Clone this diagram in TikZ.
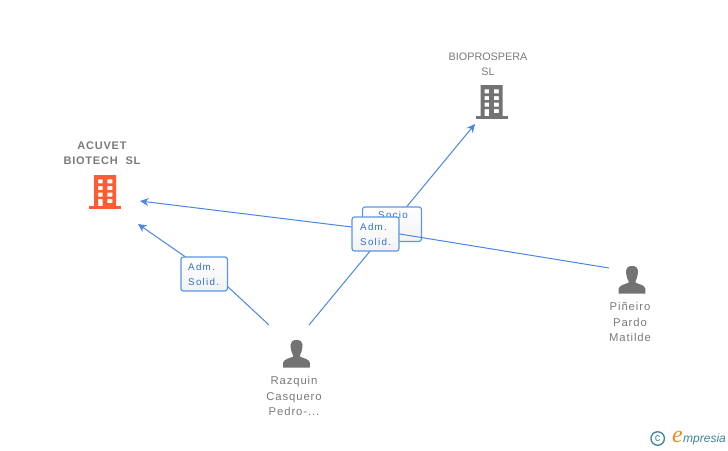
\documentclass[tikz,border=0pt]{standalone}
\usepackage{fontspec}
\setmainfont{Liberation Sans}
\newfontfamily\namefont[LetterSpace=8]{Liberation Sans}
\newfontfamily\capsfont{Liberation Sans}
\newfontfamily\boldnamefont[LetterSpace=7]{Liberation Sans}
\newfontfamily\tagfont[LetterSpace=13]{Liberation Sans}
\newfontfamily\logofont{Liberation Serif}
\usetikzlibrary{arrows.meta}
\definecolor{linkblue}{HTML}{4A86E4}
\definecolor{tagedge}{HTML}{5A96E6}
\definecolor{tagtext}{HTML}{2F6FD0}
\definecolor{icongrey}{HTML}{737373}
\definecolor{iconred}{HTML}{FF5C33}
\definecolor{nametext}{HTML}{7A7A7A}
\definecolor{logoteal}{HTML}{3F8297}
\definecolor{logoorange}{HTML}{F08A1D}
\tikzset{
  x=1pt,y=-1pt,
  link/.style={draw=linkblue,line width=1pt,-{Stealth[length=8.5pt,width=8pt]}},
  tagbox/.style={draw=tagedge,line width=1.2pt,rounded corners=2.5pt,top color=white,bottom color=white!95!black},
  tagtxt/.style={text=tagtext,font=\tagfont\fontsize{9.8}{15}\selectfont,align=left,inner sep=0pt},
  nametxt/.style={text=nametext,font=\namefont\fontsize{11.3}{15.2}\selectfont,align=center,inner sep=0pt},
  capstxt/.style={text=nametext,font=\capsfont\fontsize{10.8}{15.2}\selectfont,align=center,inner sep=0pt},
  boldtxt/.style={text=nametext,font=\boldnamefont\bfseries\fontsize{11}{15.3}\selectfont,align=center,inner sep=0pt},
  pics/building/.style={code={
    \fill[#1,even odd rule] (-11,0) rectangle (11,32)
      (-7,4.3) rectangle (-2.3,8.3) (2.3,4.3) rectangle (7.3,8.3)
      (-7,11) rectangle (-2.3,15) (2.3,11) rectangle (7.3,15)
      (-7,17.7) rectangle (-2.3,21.7) (2.3,17.7) rectangle (7.3,21.7)
      (-7,24) rectangle (-2.3,32) (2.3,24) rectangle (7.3,28);
    \fill[#1] (-16,31) rectangle (16,33.5);
  }},
  pics/person/.style={code={
    \fill[icongrey] (-6,-4) .. controls (-6,-7) and (-3.5,-8.5) .. (0,-8.5)
      .. controls (3.5,-8.5) and (6,-7) .. (6,-4)
      .. controls (6,0) and (5,4) .. (3.5,6.5) -- (3.5,8)
      .. controls (6,10) and (12.5,10) .. (13.3,14) -- (13.5,19) -- (-13.5,19) -- (-13.3,14)
      .. controls (-12.5,10) and (-6,10) .. (-3.5,8) -- (-3.5,6.5)
      .. controls (-5,4) and (-6,0) .. (-6,-4) -- cycle;
  }}
}
\begin{document}
\begin{tikzpicture}
\useasboundingbox (0,0) rectangle (728,450);
% anchors of the connectors
\coordinate (razqA) at (269,325);
\coordinate (razqB) at (309,325);
\coordinate (pin) at (609,268);
\coordinate (acuA) at (138,224);
\coordinate (acuB) at (140,201);
\coordinate (bio) at (475,124);
\coordinate (bendA) at (226,285);
\coordinate (bendB) at (372,229.5);
% icons
\pic at (105,175) {building=iconred};
\pic at (491.5,85) {building=icongrey};
\pic at (296.5,348.5) {person};
\pic at (632,274.5) {person};
% names
\node[boldtxt] (acuvet) at (102,153) {ACUVET\\BIOTECH\hspace{4pt} SL};
\node[capstxt] (bioname) at (488,64) {BIOPROSPERA\\SL};
\node[nametxt] (razq) at (294,396) {Razquin\\Casquero\\Pedro-...};
\node[nametxt] (pina) at (630,322) {Piñeiro\\Pardo\\Matilde};
% connectors and tags
\draw[link] (razqA) -- (bendA) -- (acuA);
\node[tagbox,minimum width=46.5pt,minimum height=34pt,inner sep=0pt] (tagA) at (204.2,274) {};
\node[tagtxt,anchor=west] at (188,274.5) {Adm.\\Solid.};
\draw[link] (razqB) -- (bio);
\node[tagbox,minimum width=59pt,minimum height=34.5pt,inner sep=0pt] (tagS) at (392,224.2) {};
\node[tagtxt,anchor=north west] at (378,211) {Socio};
\draw[link] (pin) -- (bendB) -- (acuB);
\node[tagbox,minimum width=47pt,minimum height=34pt,inner sep=0pt] (tagB) at (375.5,234) {};
\node[tagtxt,anchor=west] at (360,234.5) {Adm.\\Solid.};
% logo
\node[draw=logoteal,line width=1.3pt,circle,minimum size=13.5pt,inner sep=0pt,text=logoteal,font=\fontsize{11}{11}\selectfont] (copy) at (657.7,438.5) {c};
\node[inner sep=0pt,text=logoorange,font=\logofont\itshape\fontsize{24}{24}\selectfont] (logoe) at (677.5,436.5) {e};
\node[inner sep=0pt,anchor=west,text=logoteal,font=\itshape\fontsize{12}{12}\selectfont] (logow) at (683,439.5) {mpresia};
\end{tikzpicture}
\end{document}
